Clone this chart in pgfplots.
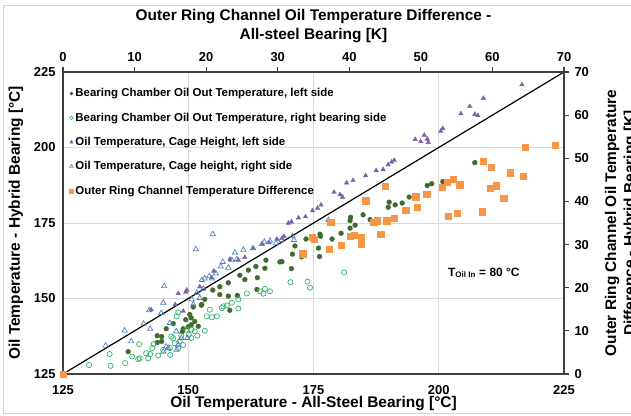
\documentclass[border=0pt]{standalone}
\usepackage{fontspec}
\setmainfont{Liberation Sans}
\usepackage{pgfplots}
\pgfplotsset{compat=1.18}

\definecolor{gridgray}{HTML}{D9D9D9}
\definecolor{axgray}{HTML}{404040}
\definecolor{darkgreen}{HTML}{3F6B2D}
\definecolor{lightgreen}{HTML}{2FB36B}
\definecolor{cagepurple}{HTML}{7B62A8}
\definecolor{cageblue}{HTML}{4F81BD}
\definecolor{ringorange}{HTML}{F79646}

\newcommand{\lblfont}{\bfseries\fontsize{15.5}{19}\selectfont}
\newcommand{\tckfont}{\bfseries\fontsize{13}{15}\selectfont}

\begin{document}
\begin{tikzpicture}[x=1bp,y=1bp]
% light frame around the figure
\draw[gray!35, line width=0.8bp] (3,2) rectangle (700,410);

% ---- Oil temperatures: hybrid vs. all-steel bearing ----
\begin{axis}[
  at={(63bp,41bp)}, anchor=south west,
  scale only axis, width=501bp, height=302bp,
  xmin=125, xmax=225, ymin=125, ymax=225,
  axis x line*=bottom, axis y line*=left,
  axis line style={axgray, line width=1.5bp, -},
  xtick={125,150,...,225}, ytick={125,150,...,225},
  major tick length=0pt,
  grid=major, major grid style={gridgray, line width=0.7bp},
  ticklabel style={font=\tckfont},
  /pgf/number format/assume math mode=true,
  xticklabel style={anchor=center, yshift=-16bp},
  yticklabel style={anchor=east, xshift=-4bp},
  xlabel={Oil Temperature - All-Steel Bearing [°C]},
  ylabel={Oil Temperature - Hybrid Bearing [°C]},
  xlabel style={font=\lblfont, at={(axis description cs:0.5,0)}, anchor=center, yshift=-30bp},
  ylabel style={font=\lblfont, at={(axis description cs:0,0.5)}, anchor=center, yshift=47bp},
]
% bearing chamber oil out, left side
\addplot[only marks, mark=*, mark size=2.4bp, darkgreen, mark options={fill=darkgreen}] coordinates {
(207.2,195) (200.8,188.7) (198.6,188) (197.7,187.4) (194.1,183.6) (192.7,181.6)
(190.1,181.9) (189.9,180.2) (191.3,181) (184.9,177.7) (182.4,176.9) (182.3,175.8)
(182.3,173.3) (183.3,174.3) (186.3,176.1) (180.5,171.6) (178.7,169.7) (176.4,170.6)
(176.3,171.3) (173.5,169.7) (171.3,167.4) (176,166.7) (170.8,164.7) (176.2,163.9)
(172.6,163.8) (168.7,162.2) (170.6,159.9) (165.5,162.7) (163.5,160.6) (162,159.4)
(160.3,157.7) (161.3,156.3) (158,155.2) (156.3,153.9) (154.9,152.8) (159.8,151)
(156.3,151.3) (163.7,153) (158,150.8) (153.3,149.7) (152.7,148) (151,147.2)
(150.3,144.7) (158.3,146.1) (168.3,162.1) (138,132.4) (143.8,137.7) (144.7,137.4)
(143.8,135.4) (144.7,135.8) (145.6,140) (147,141.7) (149,140) (150.6,143.6)
(150.6,141.3) (151.3,142.4) (152,140.8) (152.6,147.8) (150,140.6) (149.5,143)
(148.8,139) (165.3,160) (163.8,156.9)
};
% bearing chamber oil out, right bearing side
\addplot[only marks, mark=o, mark size=2.6bp, lightgreen, line width=0.7bp] coordinates {
(181.1,158.6) (170.4,155.4) (173.8,155.6) (174.3,153.6) (166.3,152.4) (165.3,153.2)
(164.3,152.4) (165,151.6) (161.7,151.7) (160,149.7) (158.7,148.6) (157.7,147.7)
(160,146.7) (156.7,146.8) (157,147.4) (154.3,146.3) (155.7,144.1) (154.7,143.8)
(153.7,144.1) (153.3,139.3) (148,145.4) (147.7,144.1) (130.2,128) (134.3,131.6)
(134.5,127.7) (137.4,128.6) (138.8,130.8) (140.3,130.2) (140.2,134.9) (141.6,131.9)
(142.4,131.6) (142,130.2) (144,131.1) (143.1,134.9) (142.8,133.6) (145,133)
(146.3,133.6) (147.3,135.2) (148,133.6) (148.3,135.8) (147,136.9) (148.6,137.7)
(149.6,139.7) (150.6,139.7) (150.1,138) (151.3,139.1) (151.8,137.7) (150.6,136.9)
(146.6,137.4) (146.4,131.3) (140,129.9) (149,134.6)
};
% oil temperature at cage height, left side
\addplot[only marks, mark=triangle*, mark size=2.6bp, cagepurple, mark options={fill=cagepurple}] coordinates {
(216.6,220.8) (208.9,216.3) (206.2,213.6) (204.4,211.2) (207.2,211) (207.8,210.6)
(200.8,206.3) (200.4,205.4) (197.1,204.1) (195.3,202.7) (196.4,202) (197.7,202.8)
(197.9,201.7) (191.1,195.8) (190.6,195.2) (189.9,194.3) (188.9,192.7) (187.5,192.4)
(185.4,190.7) (182.9,189.1) (181.6,188.3) (180.3,184.4) (180.8,183.6) (179.1,185.2)
(176.5,181) (175.8,179.9) (174.8,179.1) (173.4,177.1) (172,176.7) (170.6,175.4)
(170,175) (169.1,170.6) (168.7,169.9) (167.7,169.7) (163,166.6) (161.3,163.6)
(160,162.7) (158.3,163) (155.1,159.1) (154.7,156.9) (152.3,153.9) (149.7,152.8)
(148,151.7) (147.4,148) (149.5,152.1) (149,145.8) (142.6,146.3) (164.8,167.9)
(166.1,168.5)
};
% oil temperature at cage height, right side
\addplot[only marks, mark=triangle, mark size=3bp, cageblue, line width=0.7bp] coordinates {
(154.9,171.3) (151.5,166.3) (145.2,154.1) (145,148.6) (142.2,146.1) (141.1,141.7)
(142.4,140) (137.3,139.4) (138.6,135.8) (133.5,134.4) (146.3,141.9) (147.6,139.1)
(148.6,136.9) (149.8,136.9) (145.6,134.1) (145,132.4) (144.6,145.2) (161,166.1)
(162.9,166.6) (164.7,168) (165.2,168.8) (166.3,169.1) (159.3,165.2) (159.7,163)
(158.7,162.7) (156.9,162.1) (156.5,160.6) (158,160.2) (155.5,158.3) (154.2,157.4)
(152.7,156.1) (153.3,156.6) (154.7,156.6) (153,153.2) (151.7,151.9) (152.3,150.2)
(150.7,149.7) (151,148) (178,176) (170.8,170.6) (171.1,169.4) (146,133.6)
(147.7,133) (148,134.7) (167.5,168.3) (168.6,169.3)
};
% line of equal temperature
\addplot[black, line width=1.2bp] coordinates {(125,125) (225,225)};
\node[font=\bfseries\fontsize{12}{14}\selectfont] at (axis cs:209,158.5)
  {T\textsubscript{\fontsize{8}{9}\selectfont Oil In} = 80 °C};
\end{axis}

% ---- Outer ring channel temperature difference ----
\begin{axis}[
  at={(63bp,41bp)}, anchor=south west,
  scale only axis, width=501bp, height=302bp,
  xmin=0, xmax=70, ymin=0, ymax=70,
  axis x line*=top, axis y line*=right,
  axis line style={axgray, line width=1.5bp, -},
  xtick={0,10,...,70}, ytick={0,10,...,70},
  tick style={axgray, line width=1.2bp},
  major tick length=5bp, tick align=outside,
  ticklabel style={font=\tckfont},
  /pgf/number format/assume math mode=true,
  xticklabel style={anchor=center, yshift=10bp},
  yticklabel style={anchor=west, xshift=2bp},
  xlabel={Outer Ring Channel Oil Temperature Difference -\\All-steel Bearing [K]},
  ylabel={Outer Ring Channel Oil Temperature\\Difference - Hybrid Bearing [K]},
  xlabel style={font=\lblfont, align=center, at={(axis description cs:0.5,1)}, anchor=center, yshift=46bp},
  ylabel style={font=\lblfont, align=center, at={(axis description cs:1,0.5)}, anchor=center, yshift=-57.5bp},
  clip=false,
  legend style={draw=none, fill=none, at={(axis description cs:0.0125,0.952)}, anchor=north west,
    font=\bfseries\fontsize{11.5}{13}\selectfont, row sep=10.5bp, inner sep=0pt,
    /tikz/every even column/.append style={column sep=3bp}},
  legend cell align=left,
  legend image code/.code={\draw[#1] plot coordinates {(0.1cm,0cm)};},
]
\addlegendimage{only marks, mark=*, mark size=1.6bp, darkgreen, mark options={fill=darkgreen}}
\addlegendentry{Bearing Chamber Oil Out Temperature, left side}
\addlegendimage{only marks, mark=o, mark size=1.8bp, lightgreen, line width=0.6bp}
\addlegendentry{Bearing Chamber Oil Out Temperature, right bearing side}
\addlegendimage{only marks, mark=triangle*, mark size=1.9bp, cagepurple, mark options={fill=cagepurple}}
\addlegendentry{Oil Temperature, Cage Height, left side}
\addlegendimage{only marks, mark=triangle, mark size=2bp, cageblue, line width=0.6bp}
\addlegendentry{Oil Temperature, Cage height, right side}
\addlegendimage{only marks, mark=square*, mark size=2bp, ringorange, mark options={fill=ringorange, draw=ringorange}}
\addlegendentry{Outer Ring Channel Temperature Difference}
\addplot[forget plot, only marks, mark=square*, mark size=3.2bp, ringorange, mark options={fill=ringorange, draw=ringorange}] coordinates {
(0,0) (64.6,52.6) (68.8,53.0) (58.7,49.3) (59.8,47.9) (62.5,46.7) (64.3,45.9)
(53.7,44.5) (54.5,45.1) (55.4,43.9) (53.0,43.3) (60.5,43.6) (59.7,43.1) (61.6,40.8)
(50.8,41.7) (49.3,41.1) (47.9,38.0) (49.5,38.7) (53.8,36.6) (55.1,37.3) (58.6,37.6)
(45.0,43.5) (42.3,40.2) (46.3,36.1) (45.2,35.5) (43.9,35.5) (43.4,35.2) (44.4,32.4)
(40.7,32.2) (40.1,31.9) (41.7,31.6) (37.4,35.2) (34.8,31.7) (35.1,31.3) (38.9,29.9)
(41.7,30.1) (37.2,28.9) (33.5,27.9)
};
\end{axis}

\pgfresetboundingbox
\useasboundingbox (0,0) rectangle (631,415);
\end{tikzpicture}
\end{document}
